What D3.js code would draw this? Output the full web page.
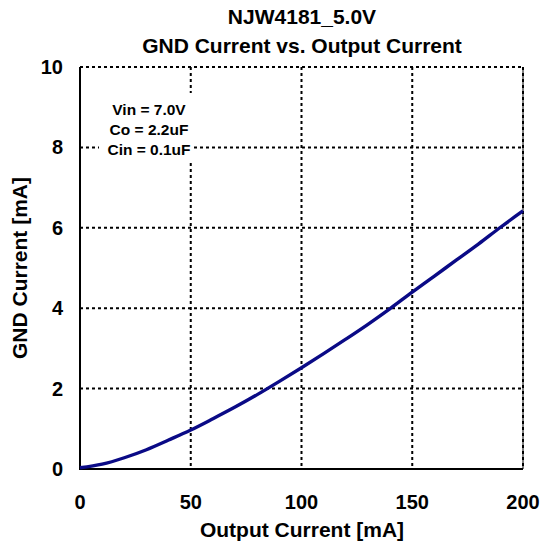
<!DOCTYPE html>
<html><head><meta charset="utf-8">
<script src="https://cdn.jsdelivr.net/npm/d3@7"></script>
<style>body{margin:0;background:#fff;} text{font-family:"Liberation Sans",Arial,sans-serif;font-weight:bold;}</style>
</head><body>
<svg id="c" width="544" height="547"></svg>
<script>
const outputCurrent = [0,10,20,30,40,50,60,70,80,90,100,110,120,130,140,150,160,170,180,190,200];
const gndCurrent = [0.03,0.12,0.28,0.48,0.72,0.97,1.25,1.54,1.85,2.18,2.52,2.87,3.23,3.6,3.99,4.4,4.8,5.2,5.6,6.02,6.42];
const xTicks = [0,50,100,150,200];
const yTicks = [0,2,4,6,8,10];
const titleLines = ["NJW4181_5.0V","GND Current vs. Output Current"];
const notes = ["Vin = 7.0V","Co = 2.2uF","Cin = 0.1uF"];

const svg = d3.select("#c");
const L=80,R=523,T=67,B=469;
const x = d3.scaleLinear().domain([0,200]).range([L,R]);
const y = d3.scaleLinear().domain([0,10]).range([B,T]);

// grid
const g = svg.append("g");
g.selectAll(".vg").data(xTicks.filter(d=>d>0)).join("line")
  .attr("x1",d=>x(d)).attr("x2",d=>x(d)).attr("y1",T).attr("y2",B)
  .attr("stroke","#000").attr("stroke-width",2).attr("stroke-dasharray","3,3");
g.selectAll(".hg").data(yTicks.filter(d=>d>0)).join("line")
  .attr("y1",d=>y(d)).attr("y2",d=>y(d)).attr("x1",L).attr("x2",R)
  .attr("stroke","#000").attr("stroke-width",2).attr("stroke-dasharray","3,3");
// right border solid thin
svg.append("line").attr("x1",R).attr("x2",R).attr("y1",T).attr("y2",B).attr("stroke","#000").attr("stroke-width",1);

// annotation box
svg.append("rect").attr("x",99).attr("y",93).attr("width",94).attr("height",69).attr("fill","#fff");
svg.selectAll(".note").data(notes).join("text")
  .attr("x",149).attr("y",(d,i)=>115+i*20).attr("text-anchor","middle")
  .attr("font-size",15.5).text(d=>d);

// axes lines
svg.append("line").attr("x1",L).attr("x2",L).attr("y1",T).attr("y2",B+1).attr("stroke","#000").attr("stroke-width",2);
svg.append("line").attr("x1",L-1).attr("x2",R).attr("y1",B).attr("y2",B).attr("stroke","#000").attr("stroke-width",2);

// curve
svg.append("path").datum(outputCurrent.map((d,i)=>[d,gndCurrent[i]]))
  .attr("d",d3.line().x(d=>x(d[0])).y(d=>y(d[1])).curve(d3.curveMonotoneX))
  .attr("fill","none").attr("stroke","#0a0a86").attr("stroke-width",3.4);

// tick labels
svg.selectAll(".xt").data(xTicks).join("text")
  .attr("x",d=>x(d)).attr("y",509).attr("text-anchor","middle").attr("font-size",20).text(d=>d);
svg.selectAll(".yt").data(yTicks).join("text")
  .attr("x",63).attr("y",d=>y(d)+7).attr("text-anchor","end").attr("font-size",20).text(d=>d);

// titles
svg.selectAll(".tt").data(titleLines).join("text")
  .attr("x",302).attr("y",(d,i)=>24+i*29).attr("text-anchor","middle").attr("font-size",21).text(d=>d);
svg.append("text").attr("x",302).attr("y",537).attr("text-anchor","middle").attr("font-size",21).text("Output Current [mA]");
svg.append("text").attr("transform","translate(27,268) rotate(-90)").attr("text-anchor","middle").attr("font-size",21).text("GND Current [mA]");
</script>
</body></html>
